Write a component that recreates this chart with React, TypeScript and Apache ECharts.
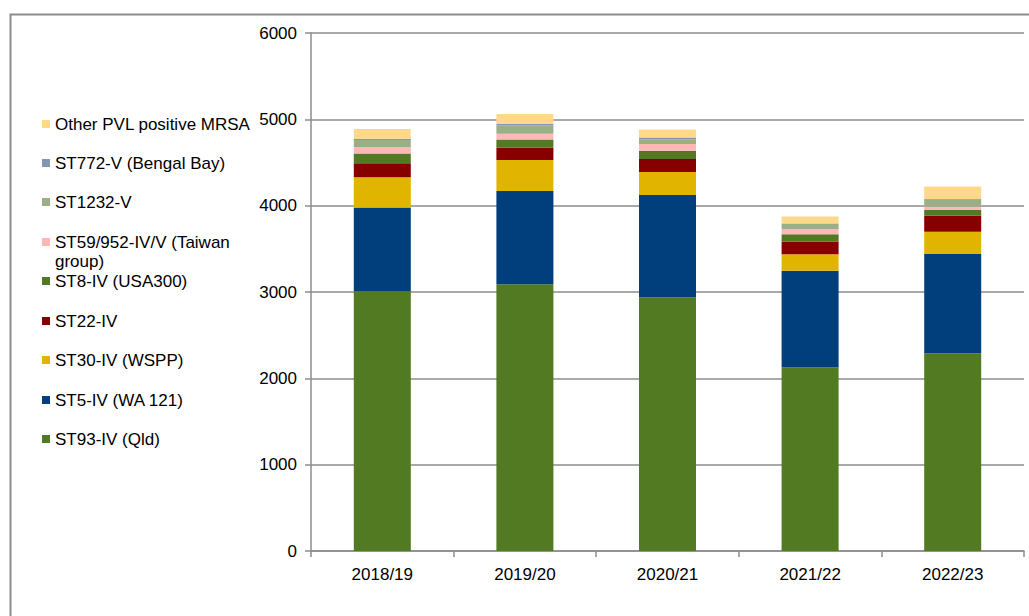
import React, { useEffect, useRef } from "react";
import * as echarts from "echarts";

const categories = ["2018/19", "2019/20", "2020/21", "2021/22", "2022/23"];

const st93 = [3010, 3090, 2940, 2128, 2290];
const st5 = [970, 1080, 1185, 1119, 1150];
const st30 = [350, 360, 265, 190, 259];
const st22 = [160, 140, 150, 146, 185];
const st8 = [115, 97, 95, 85, 66];
const st59 = [75, 65, 80, 58, 38];
const st1232 = [80, 97, 55, 62, 80];
const st772 = [15, 19, 20, 5, 10];
const otherPvl = [112, 115, 92, 81, 143];

const yTicks = [0, 6000, 1000];

const seriesDefs = [
  { name: "ST93-IV (Qld)", data: st93, color: "#517A22" },
  { name: "ST5-IV (WA 121)", data: st5, color: "#003F7C" },
  { name: "ST30-IV (WSPP)", data: st30, color: "#E1B400" },
  { name: "ST22-IV", data: st22, color: "#860000" },
  { name: "ST8-IV (USA300)", data: st8, color: "#517A22" },
  { name: "ST59/952-IV/V (Taiwan group)", data: st59, color: "#FFB7B7" },
  { name: "ST1232-V", data: st1232, color: "#9AAE88" },
  { name: "ST772-V (Bengal Bay)", data: st772, color: "#8497B0" },
  { name: "Other PVL positive MRSA", data: otherPvl, color: "#FFD88A" },
];

// legend text centre y positions (top to bottom)
const legendOrder = [
  "Other PVL positive MRSA",
  "ST772-V (Bengal Bay)",
  "ST1232-V",
  "ST59/952-IV/V (Taiwan group)",
  "ST8-IV (USA300)",
  "ST22-IV",
  "ST30-IV (WSPP)",
  "ST5-IV (WA 121)",
  "ST93-IV (Qld)",
];
const legendY = [124, 163, 202, 242, 281, 321, 360, 400, 439];

export default function App() {
  const ref = useRef<HTMLDivElement>(null);
  useEffect(() => {
    if (!ref.current) return;
    const chart = echarts.init(ref.current, null, { renderer: "svg" });
    const font = "'Liberation Sans', Arial, sans-serif";
    const legends = legendOrder.map((name, i) => ({
      data: [name],
      orient: "vertical",
      left: 42,
      top: legendY[i] - 10,
      padding: 0,
      itemWidth: 8,
      itemHeight: 8,
      icon: "rect",
      selectedMode: false,
      formatter: (n: string) =>
        n === "ST59/952-IV/V (Taiwan group)" ? "ST59/952-IV/V (Taiwan" : n,
      textStyle: { fontSize: 17, fontFamily: font, color: "#000", lineHeight: 20 },
    }));
    chart.setOption({
      animation: false,
      backgroundColor: "#fff",
      textStyle: { fontFamily: font },
      legend: legends,
      graphic: [
        {
          type: "rect",
          shape: { x: 10.5, y: 14.5, width: 1040, height: 640 },
          style: { fill: "none", stroke: "#8c8c8c", lineWidth: 2 },
          silent: true,
        },
        {
          type: "text",
          left: 55,
          top: 253,
          style: { text: "group)", fontSize: 17, fontFamily: font, fill: "#000" },
        },
      ],
      grid: { left: 311, right: 5, top: 33, bottom: 65, containLabel: false },
      xAxis: {
        type: "category",
        data: categories,
        axisLine: { lineStyle: { color: "#8c8c8c", width: 1.5 } },
        axisTick: { show: true, length: 6, lineStyle: { color: "#8c8c8c", width: 1.5 } },
        axisLabel: { fontSize: 17, color: "#000", margin: 15, fontFamily: font },
      },
      yAxis: {
        type: "value",
        min: yTicks[0],
        max: yTicks[1],
        interval: yTicks[2],
        axisLine: { show: true, lineStyle: { color: "#8c8c8c", width: 1.5 } },
        axisTick: { show: true, length: 6, lineStyle: { color: "#8c8c8c", width: 1.5 } },
        axisLabel: {
          fontSize: 17,
          color: "#000",
          margin: 14,
          fontFamily: font,
          formatter: (v: number) => String(v),
        },
        splitLine: { lineStyle: { color: "#8c8c8c", width: 1.5 } },
      },
      series: seriesDefs.map((s) => ({
        name: s.name,
        type: "bar",
        stack: "total",
        data: s.data,
        barWidth: 57,
        itemStyle: { color: s.color },
        emphasis: { disabled: true },
      })),
    });
    return () => chart.dispose();
  }, []);
  return (
    <div
      ref={ref}
      style={{ position: "fixed", left: 0, top: 0, width: 1029, height: 616 }}
    />
  );
}
